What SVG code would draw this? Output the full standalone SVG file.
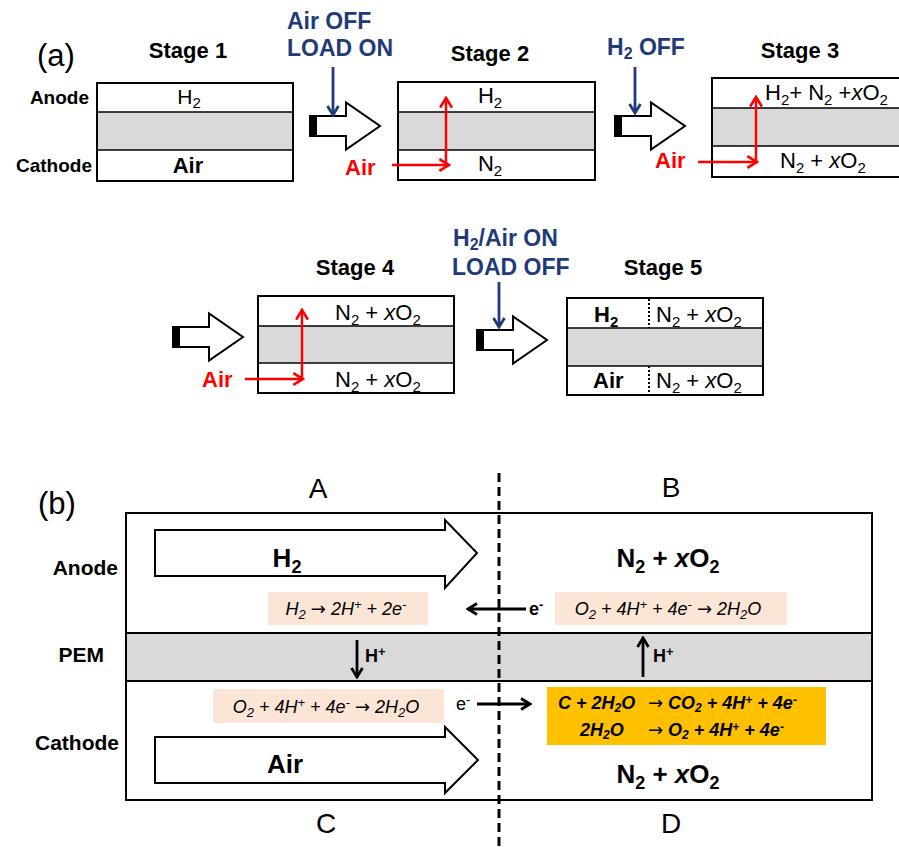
<svg xmlns="http://www.w3.org/2000/svg" width="899" height="847" viewBox="0 0 899 847">
<defs>
<style>
text{font-family:"Liberation Sans",Arial,sans-serif;fill:#000}
.b{font-weight:bold}
.it{font-style:italic}
.red{fill:#FF0000}
.cell{fill:#fff;stroke:#000;stroke-width:2}
.mem{fill:#D9D9D9}
.sep{stroke:#000;stroke-width:1.5}
.blk{fill:#fff;stroke:#000;stroke-width:2}
.lay{font-size:22px}
.stg{font-size:22px;font-weight:bold}
.ctl{font-size:23px;font-weight:bold;fill:#1F3B7A}
.side{font-size:19px;font-weight:bold}
.sideb{font-size:21px;font-weight:bold}
.eq{font-size:18px;font-style:italic}
.eqo{font-size:18px;font-style:italic;font-weight:bold}
.arw{font-family:"DejaVu Sans",sans-serif;font-style:normal;font-weight:normal}
.big{font-size:26px;font-weight:bold}
.quad{font-size:28px}
.ra{stroke:#FF0000;stroke-width:2.5;fill:none}
.na{stroke:#1F3B7A;stroke-width:2.8;fill:none}
.ka{stroke:#000;stroke-width:2.8;fill:none}
</style>
<marker id="mRed" markerUnits="userSpaceOnUse" viewBox="0 0 14 14" refX="12" refY="7" markerWidth="15" markerHeight="15" orient="auto"><path d="M3,1.5 L12,7 L3,12.5" fill="none" stroke="#FF0000" stroke-width="2.5"/></marker>
<marker id="mNavy" markerUnits="userSpaceOnUse" viewBox="0 0 14 14" refX="12" refY="7" markerWidth="14" markerHeight="14" orient="auto"><path d="M3,1.5 L12,7 L3,12.5" fill="none" stroke="#1F3B7A" stroke-width="2.8"/></marker>
<marker id="mBlk" markerUnits="userSpaceOnUse" viewBox="0 0 14 14" refX="12" refY="7" markerWidth="14" markerHeight="14" orient="auto"><path d="M3,1.5 L12,7 L3,12.5" fill="none" stroke="#000" stroke-width="2.8"/></marker>
<g id="blockA">
<polygon class="blk" points="0,-10 36,-10 36,-23.5 70,0 36,23.5 36,10 0,10"/>
<rect x="0" y="-10" width="7" height="20" fill="#000"/>
</g>
</defs>
<rect x="0" y="0" width="899" height="847" fill="#fff"/>

<!-- Part (a) -->
<text x="37" y="66" font-size="31">(a)</text>
<g id="side-labels-a">
<text class="side" x="89" y="104" text-anchor="end">Anode</text>
<text class="side" x="92" y="172" text-anchor="end">Cathode</text>
</g>

<g id="stage1">
<text class="stg" x="188" y="58" text-anchor="middle">Stage 1</text>
<rect class="cell" x="97" y="83" width="196" height="98"/>
<rect class="mem" x="98" y="112" width="194" height="38"/>
<line class="sep" x1="97" y1="112" x2="293" y2="112"/>
<line class="sep" x1="97" y1="150" x2="293" y2="150"/>
<text x="189" y="104" text-anchor="middle" font-size="21">H<tspan font-size="15" dy="4">2</tspan></text>
<text x="188" y="173" text-anchor="middle" font-size="22" class="b">Air</text>
</g>

<g id="transition1">
<text class="ctl" x="287" y="29">Air OFF</text>
<text class="ctl" x="287" y="56">LOAD ON</text>
<use href="#blockA" x="310" y="126"/>
</g>

<g id="stage2">
<text class="stg" x="490" y="61" text-anchor="middle">Stage 2</text>
<rect class="cell" x="398" y="82" width="197" height="98"/>
<rect class="mem" x="399" y="112" width="195" height="38"/>
<line class="sep" x1="398" y1="112" x2="595" y2="112"/>
<line class="sep" x1="398" y1="150" x2="595" y2="150"/>
<text class="lay" x="490" y="103" text-anchor="middle">H<tspan font-size="15" dy="5">2</tspan></text>
<text class="lay" x="490" y="171" text-anchor="middle">N<tspan font-size="15" dy="5">2</tspan></text>
<text class="red b" x="345" y="175" font-size="22">Air</text>
</g>

<g id="transition2">
<text class="ctl" x="607" y="55">H<tspan font-size="16" dy="4">2</tspan><tspan dy="-4"> OFF</tspan></text>
<use href="#blockA" x="615" y="126"/>
</g>

<g id="stage3">
<text class="stg" x="800" y="58" text-anchor="middle">Stage 3</text>
<rect class="cell" x="712" y="78" width="200" height="99"/>
<rect class="mem" x="713" y="108" width="199" height="38"/>
<line class="sep" x1="712" y1="108" x2="912" y2="108"/>
<line class="sep" x1="712" y1="146" x2="912" y2="146"/>
<text class="lay" x="765" y="100">H<tspan font-size="15" dy="5">2</tspan><tspan dy="-5">+ N</tspan><tspan font-size="15" dy="5">2</tspan><tspan dy="-5"> +</tspan><tspan class="it">x</tspan>O<tspan font-size="15" dy="5">2</tspan></text>
<text class="lay" x="780" y="168">N<tspan font-size="15" dy="5">2</tspan><tspan dy="-5"> + </tspan><tspan class="it">x</tspan>O<tspan font-size="15" dy="5">2</tspan></text>
<text class="red b" x="655" y="168" font-size="22">Air</text>
</g>

<g id="transition3">
<use href="#blockA" x="173" y="337"/>
</g>

<g id="stage4">
<text class="stg" x="355" y="275" text-anchor="middle">Stage 4</text>
<rect class="cell" x="258" y="296" width="196" height="97"/>
<rect class="mem" x="259" y="326" width="194" height="37"/>
<line class="sep" x1="258" y1="326" x2="454" y2="326"/>
<line class="sep" x1="258" y1="363" x2="454" y2="363"/>
<text class="lay" x="335" y="320">N<tspan font-size="15" dy="5">2</tspan><tspan dy="-5"> + </tspan><tspan class="it">x</tspan>O<tspan font-size="15" dy="5">2</tspan></text>
<text class="lay" x="335" y="387">N<tspan font-size="15" dy="5">2</tspan><tspan dy="-5"> + </tspan><tspan class="it">x</tspan>O<tspan font-size="15" dy="5">2</tspan></text>
<text class="red b" x="202" y="387" font-size="22">Air</text>
</g>

<g id="transition4">
<text class="ctl" x="453" y="246">H<tspan font-size="16" dy="4">2</tspan><tspan dy="-4">/Air ON</tspan></text>
<text class="ctl" x="452" y="275">LOAD OFF</text>
<use href="#blockA" x="477" y="340"/>
</g>

<g id="stage5">
<text class="stg" x="663" y="275" text-anchor="middle">Stage 5</text>
<rect class="cell" x="567" y="298" width="196" height="97"/>
<rect class="mem" x="568" y="328" width="194" height="38"/>
<line class="sep" x1="567" y1="328" x2="763" y2="328"/>
<line class="sep" x1="567" y1="366" x2="763" y2="366"/>
<line x1="649" y1="299" x2="649" y2="328" stroke="#000" stroke-width="2" stroke-dasharray="2 2"/>
<line x1="649" y1="366" x2="649" y2="395" stroke="#000" stroke-width="2" stroke-dasharray="2 2"/>
<text class="lay b" x="594" y="322">H<tspan font-size="15" dy="5">2</tspan></text>
<text class="lay" x="656" y="322">N<tspan font-size="15" dy="5">2</tspan><tspan dy="-5"> + </tspan><tspan class="it">x</tspan>O<tspan font-size="15" dy="5">2</tspan></text>
<text class="lay b" x="593" y="388">Air</text>
<text class="lay" x="656" y="388">N<tspan font-size="15" dy="5">2</tspan><tspan dy="-5"> + </tspan><tspan class="it">x</tspan>O<tspan font-size="15" dy="5">2</tspan></text>
</g>

<g id="connectors-a">
<line class="na" x1="333" y1="67" x2="333" y2="115" marker-end="url(#mNavy)"/>
<line class="na" x1="635" y1="67" x2="635" y2="113" marker-end="url(#mNavy)"/>
<line class="na" x1="499" y1="282" x2="499" y2="327" marker-end="url(#mNavy)"/>
<line class="ra" x1="392" y1="165" x2="449" y2="165" marker-end="url(#mRed)"/>
<line class="ra" x1="446" y1="165" x2="446" y2="98" marker-end="url(#mRed)"/>
<line class="ra" x1="698" y1="162" x2="757" y2="162" marker-end="url(#mRed)"/>
<line class="ra" x1="756" y1="162" x2="756" y2="97" marker-end="url(#mRed)"/>
<line class="ra" x1="245" y1="379" x2="303" y2="379" marker-end="url(#mRed)"/>
<line class="ra" x1="302" y1="379" x2="302" y2="310" marker-end="url(#mRed)"/>
</g>

<!-- Part (b) -->
<text x="38" y="514" font-size="31">(b)</text>
<g id="quadrant-labels">
<text class="quad" x="318" y="498" text-anchor="middle">A</text>
<text class="quad" x="671" y="497" text-anchor="middle">B</text>
<text class="quad" x="326" y="833" text-anchor="middle">C</text>
<text class="quad" x="671" y="833" text-anchor="middle">D</text>
</g>
<g id="side-labels-b">
<text class="sideb" x="118" y="575" text-anchor="end">Anode</text>
<text class="sideb" x="104" y="662" text-anchor="end">PEM</text>
<text class="sideb" x="119" y="750" text-anchor="end">Cathode</text>
</g>

<g id="cell-b">
<rect class="cell" x="126" y="513" width="746" height="287"/>
<rect class="mem" x="127" y="633" width="744" height="48"/>
<line x1="126" y1="633" x2="872" y2="633" stroke="#000" stroke-width="2"/>
<line x1="126" y1="681" x2="872" y2="681" stroke="#000" stroke-width="2"/>
</g>

<g id="h2-flow">
<polygon class="blk" points="155,530 445,530 445,520 477,553 445,588 445,576 155,576"/>
<text class="big" x="287" y="567" text-anchor="middle">H<tspan font-size="18" dy="6">2</tspan></text>
</g>
<g id="air-flow">
<polygon class="blk" points="155,737 445,737 445,727 478,760 445,793 445,783 155,783"/>
<text class="big" x="285" y="773" text-anchor="middle">Air</text>
</g>
<g id="gas-B">
<text class="big" x="668" y="567" text-anchor="middle">N<tspan font-size="18" dy="6">2</tspan><tspan dy="-6"> + </tspan><tspan class="it">x</tspan>O<tspan font-size="18" dy="6">2</tspan></text>
</g>
<g id="gas-D">
<text class="big" x="668" y="783" text-anchor="middle">N<tspan font-size="18" dy="6">2</tspan><tspan dy="-6"> + </tspan><tspan class="it">x</tspan>O<tspan font-size="18" dy="6">2</tspan></text>
</g>

<g id="eq-A">
<rect x="268" y="592" width="160" height="33" fill="#FBE5D6"/>
<text class="eq" x="346" y="615" text-anchor="middle">H<tspan font-size="13" dy="4">2</tspan><tspan dy="-4"> </tspan><tspan class="arw">→</tspan> 2H<tspan font-size="13" dy="-6">+</tspan><tspan dy="6"> + 2e</tspan><tspan font-size="13" dy="-6">-</tspan></text>
</g>
<g id="eq-B">
<rect x="555" y="592" width="232" height="33" fill="#FBE5D6"/>
<text class="eq" x="668" y="615" text-anchor="middle">O<tspan font-size="13" dy="4">2</tspan><tspan dy="-4"> + 4H</tspan><tspan font-size="13" dy="-6">+</tspan><tspan dy="6"> + 4e</tspan><tspan font-size="13" dy="-6">-</tspan><tspan dy="6"> </tspan><tspan class="arw">→</tspan> 2H<tspan font-size="13" dy="4">2</tspan><tspan dy="-4">O</tspan></text>
</g>
<g id="eq-C">
<rect x="213" y="689" width="231" height="34" fill="#FBE5D6"/>
<text class="eq" x="326" y="713" text-anchor="middle">O<tspan font-size="13" dy="4">2</tspan><tspan dy="-4"> + 4H</tspan><tspan font-size="13" dy="-6">+</tspan><tspan dy="6"> + 4e</tspan><tspan font-size="13" dy="-6">-</tspan><tspan dy="6"> </tspan><tspan class="arw">→</tspan> 2H<tspan font-size="13" dy="4">2</tspan><tspan dy="-4">O</tspan></text>
</g>
<g id="eq-D">
<rect x="547" y="687" width="279" height="58" fill="#FFC000"/>
<text class="eqo" x="558" y="709">C + 2H<tspan font-size="12" dy="3">2</tspan><tspan dy="-3">O</tspan></text>
<text class="eqo" x="648" y="709"><tspan class="arw">→</tspan> CO<tspan font-size="12" dy="3">2</tspan><tspan dy="-3"> + 4H</tspan><tspan font-size="12" dy="-5">+</tspan><tspan dy="5"> + 4e</tspan><tspan font-size="12" dy="-5">-</tspan></text>
<text class="eqo" x="580" y="736">2H<tspan font-size="12" dy="3">2</tspan><tspan dy="-3">O</tspan></text>
<text class="eqo" x="648" y="736"><tspan class="arw">→</tspan> O<tspan font-size="12" dy="3">2</tspan><tspan dy="-3"> + 4H</tspan><tspan font-size="12" dy="-5">+</tspan><tspan dy="5"> + 4e</tspan><tspan font-size="12" dy="-5">-</tspan></text>
</g>

<g id="connectors-b">
<line x1="499" y1="473" x2="499" y2="847" stroke="#000" stroke-width="3" stroke-dasharray="9 5"/>
<line class="ka" x1="526" y1="609" x2="468" y2="609" marker-end="url(#mBlk)"/>
<text class="b" x="529" y="615" font-size="18">e<tspan font-size="13" dy="-6">-</tspan></text>
<line class="ka" x1="477" y1="704" x2="530" y2="704" marker-end="url(#mBlk)"/>
<text x="456" y="710" font-size="18">e<tspan font-size="13" dy="-6">-</tspan></text>
<line class="ka" x1="357" y1="640" x2="357" y2="677" marker-end="url(#mBlk)"/>
<text class="b" x="365" y="662" font-size="18">H<tspan font-size="13" dy="-6">+</tspan></text>
<line class="ka" x1="643" y1="677" x2="643" y2="638" marker-end="url(#mBlk)"/>
<text class="b" x="653" y="662" font-size="18">H<tspan font-size="13" dy="-6">+</tspan></text>
</g>
</svg>
